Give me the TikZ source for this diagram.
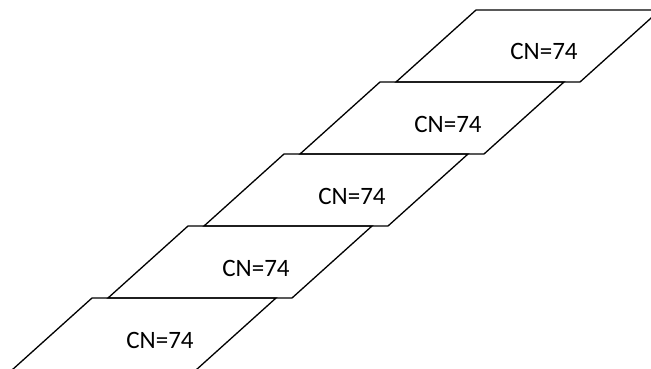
\documentclass[tikz,border=0pt]{standalone}
\usepackage{fontspec}
\setmainfont{Carlito}
\begin{document}
\begin{tikzpicture}[x=1pt,y=-1pt,
  pgram/.style={draw=black,line width=1.3pt,line join=miter},
  lbl/.style={anchor=base,inner sep=0pt,font=\fontsize{25}{30}\selectfont}]
\useasboundingbox (0,0) rectangle (651,369);
\foreach \i in {0,...,4}{
  \pgfmathsetmacro{\tx}{476-96*\i}
  \pgfmathsetmacro{\ty}{10+72*\i}
  \draw[pgram] (\tx,\ty) -- ++(184,0) -- ++(-80,72) -- ++(-184,0) -- cycle;
  \pgfmathsetmacro{\lx}{544-96*\i}
  \pgfmathsetmacro{\ly}{60+72*\i}
  \node[lbl] (t\i) at (\lx,\ly) {CN=74};
}
\end{tikzpicture}
\end{document}
